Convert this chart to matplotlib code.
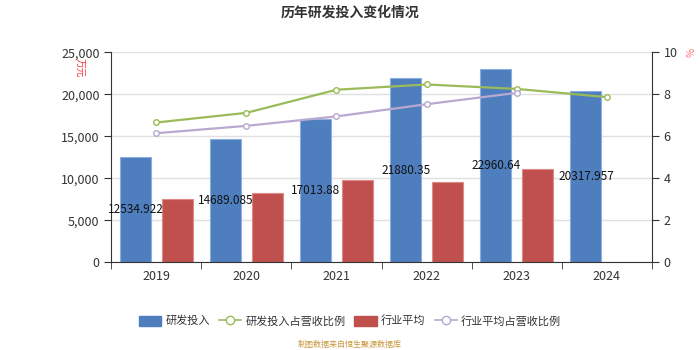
import matplotlib.pyplot as plt
from matplotlib.lines import Line2D
from matplotlib.patches import Patch

plt.rcParams['font.family'] = ['Noto Sans CJK SC', 'DejaVu Sans']

years = ['2019', '2020', '2021', '2022', '2023', '2024']
rd_invest = [12534.922, 14689.085, 17013.88, 21880.35, 22960.64, 20317.957]
industry_avg = [7500, 8180, 9730, 9490, 11070]
rd_ratio = [6.65, 7.11, 8.21, 8.46, 8.25, 7.86]
industry_ratio = [6.14, 6.49, 6.94, 7.52, 8.06]

blue = '#4e7ebe'
red = '#c0504d'
green = '#9bbb59'
purple = '#b8a9d0'

fig = plt.figure(figsize=(7, 3.5), dpi=100)
ax = fig.add_axes([0.159, 0.251, 0.772, 0.6])

x = list(range(len(years)))
w = 0.345
ax.bar([i - 0.23 for i in x], rd_invest, width=w, color=blue, edgecolor='#8aaee0', linewidth=0.8, zorder=2)
ax.bar([i + 0.23 for i in range(len(industry_avg))], industry_avg, width=w, color=red,
       edgecolor='#e08a88', linewidth=0.8, zorder=2)

# value labels sit in the middle of the blue bars
for i, v in enumerate(rd_invest):
    ax.text(i - 0.23, v / 2, str(v), ha='center', va='center', fontsize=8.5, color='#111111', zorder=5)

ax.set_xlim(-0.5, len(years) - 0.5)
ax.set_ylim(0, 25000)
ax.set_yticks(range(0, 25001, 5000))
ax.set_yticklabels([f'{v:,}' for v in range(0, 25001, 5000)])
ax.set_xticks(x)
ax.set_xticklabels(years)
ax.set_xticks([i - 0.5 for i in range(len(years) + 1)], minor=True)
ax.tick_params(axis='x', which='major', length=0, pad=6, labelsize=9, labelcolor='#333333')
ax.tick_params(axis='x', which='minor', length=5, color='#333333')
ax.tick_params(axis='y', length=5, color='#333333', labelsize=9, labelcolor='#333333')
ax.grid(axis='y', color='#e0e0e0', linewidth=1, zorder=0)
ax.set_axisbelow(True)
for s in ['top', 'right']:
    ax.spines[s].set_visible(False)
for s in ['left', 'bottom']:
    ax.spines[s].set_color('#333333')

ax2 = ax.twinx()
ax2.plot(x, rd_ratio, color=green, linewidth=1.6, marker='o', markersize=4,
         markerfacecolor='white', markeredgecolor=green, zorder=4)
ax2.plot(x[:len(industry_ratio)], industry_ratio, color=purple, linewidth=1.6, marker='o', markersize=4,
         markerfacecolor='white', markeredgecolor=purple, zorder=4)
ax2.set_ylim(0, 10)
ax2.set_yticks(range(0, 11, 2))
ax2.tick_params(axis='y', length=5, color='#333333', labelsize=9, labelcolor='#333333')
for s in ['top', 'left', 'bottom']:
    ax2.spines[s].set_visible(False)
ax2.spines['right'].set_color('#333333')

fig.text(0.114, 0.805, '万元', color='#ff3333', fontsize=7, rotation=-90, ha='center', va='center')
fig.text(0.983, 0.85, '%', color='#ff6666', fontsize=7, rotation=-90, ha='center', va='center')

fig.text(0.5, 0.965, '历年研发投入变化情况', ha='center', va='center', fontsize=10,
         fontweight='bold', color='#333333')

handles = [
    Patch(facecolor=blue, edgecolor=blue),
    Line2D([0], [0], color=green, marker='o', markerfacecolor='white', markersize=6, linewidth=1.2),
    Patch(facecolor=red, edgecolor=red),
    Line2D([0], [0], color=purple, marker='o', markerfacecolor='white', markersize=6, linewidth=1.2),
]
labels = ['研发投入', '研发投入占营收比例', '行业平均', '行业平均占营收比例']
fig.legend(handles, labels, loc='center', bbox_to_anchor=(0.5, 0.083), ncol=4, frameon=False,
           fontsize=8, labelcolor='#333333', handlelength=2.0, handleheight=1.0,
           columnspacing=0.8, handletextpad=0.4)

fig.text(0.5, 0.017, '制图数据来自恒生聚源数据库', ha='center', va='center', fontsize=5.8, color='#c8963c')

fig.savefig('out.png', dpi=100)
